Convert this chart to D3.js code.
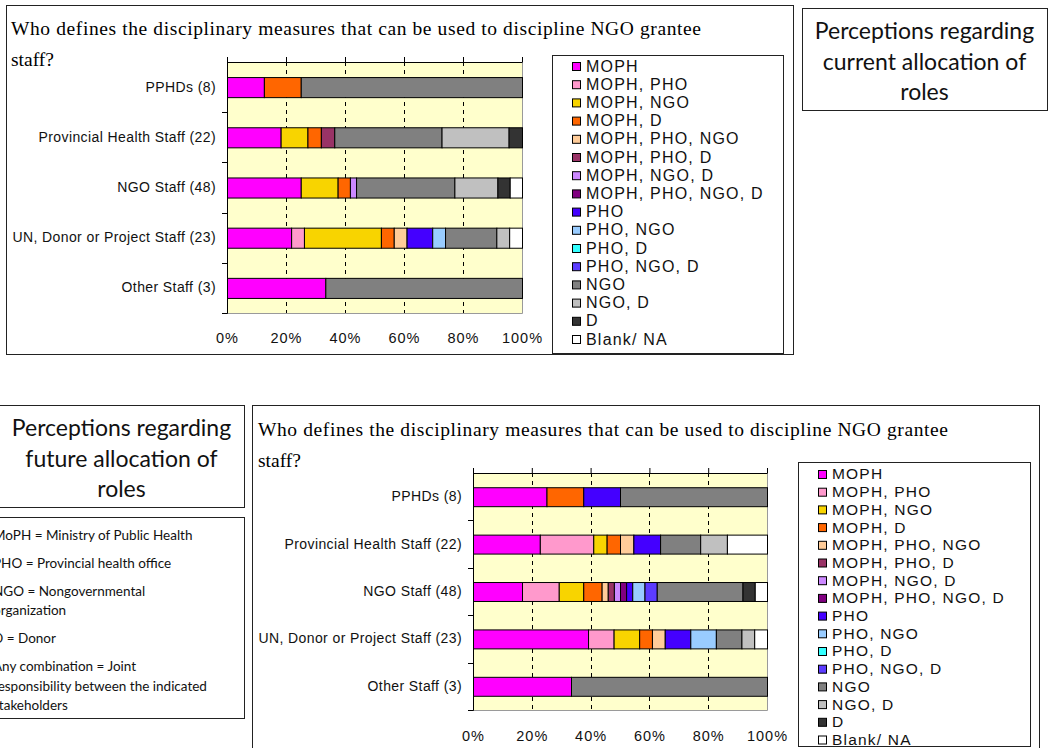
<!DOCTYPE html>
<html>
<head>
<meta charset="utf-8">
<script src="https://cdn.jsdelivr.net/npm/d3@7"></script>
<style>
  body { margin: 0; background: #fff; }
  svg { display: block; }
</style>
</head>
<body>
<svg id="page" width="1053" height="748"></svg>
<script>
'use strict';

// ---- data -------------------------------------------------------------
var categories = ['PPHDs (8)', 'Provincial Health Staff (22)', 'NGO Staff (48)',
                  'UN, Donor or Project Staff (23)', 'Other Staff (3)']

var seriesNames = ['MOPH', 'MOPH, PHO', 'MOPH, NGO', 'MOPH, D', 'MOPH, PHO, NGO',
                   'MOPH, PHO, D', 'MOPH, NGO, D', 'MOPH, PHO, NGO, D', 'PHO', 'PHO, NGO',
                   'PHO, D', 'PHO, NGO, D', 'NGO', 'NGO, D', 'D', 'Blank/ NA']

var seriesColors = ['#ff00ff', '#ff99cc', '#f8d400', '#ff6600', '#ffcc99',
                    '#993366', '#cc88ff', '#800080', '#4400ff', '#99ccff',
                    '#33ffff', '#5c3cff', '#808080', '#c0c0c0', '#333333', '#ffffff']

// respondent counts per category, in seriesNames order
var currentCounts = [
  [1, 0, 0, 1, 0, 0, 0, 0, 0, 0, 0, 0, 6, 0, 0, 0],
  [4, 0, 2, 1, 0, 1, 0, 0, 0, 0, 0, 0, 8, 5, 1, 0],
  [12, 0, 6, 2, 0, 0, 1, 0, 0, 0, 0, 0, 16, 7, 2, 2],
  [5, 1, 6, 1, 1, 0, 0, 0, 2, 1, 0, 0, 4, 1, 0, 1],
  [1, 0, 0, 0, 0, 0, 0, 0, 0, 0, 0, 0, 2, 0, 0, 0]
]

var futureCounts = [
  [2, 0, 0, 1, 0, 0, 0, 0, 1, 0, 0, 0, 4, 0, 0, 0],
  [5, 4, 1, 1, 1, 0, 0, 0, 2, 0, 0, 0, 3, 2, 0, 3],
  [8, 6, 4, 3, 1, 1, 1, 1, 1, 2, 0, 2, 14, 0, 2, 2],
  [9, 2, 2, 1, 1, 0, 0, 0, 2, 2, 0, 0, 2, 1, 0, 1],
  [1, 0, 0, 0, 0, 0, 0, 0, 0, 0, 0, 0, 2, 0, 0, 0]
]

var tickValues = [0, 0.2, 0.4, 0.6, 0.8, 1]

var chartTitle = ['Who defines the disciplinary measures that can be used to discipline NGO grantee', 'staff?']

var currentBoxText = ['Perceptions regarding', 'current allocation of', 'roles']
var futureBoxText = ['Perceptions regarding', 'future allocation of', 'roles']

var abbreviations = [
  ['MoPH = Ministry of Public Health'],
  ['PHO = Provincial health office'],
  ['NGO = Nongovernmental', 'organization'],
  ['D = Donor'],
  ['Any combination = Joint', 'responsibility between the indicated', 'stakeholders']
]

// ---- drawing ----------------------------------------------------------
var SANS = '"Liberation Sans", Arial, sans-serif'
,   SERIF = '"Liberation Serif", "Times New Roman", serif'
,   HUMANIST = 'Lato, "Open Sans", sans-serif'

var svg = d3.select('#page')

svg.append('rect').attr('width', 1053).attr('height', 748).attr('fill', '#fff')

function drawBox(x, y, w, h) {
  svg.append('rect')
    .attr('x', x + 0.5).attr('y', y + 0.5)
    .attr('width', w).attr('height', h)
    .attr('fill', '#fff')
    .attr('stroke', '#222')
    .attr('stroke-width', 1)
}

function drawBarChart(cfg, counts) {
  drawBox(cfg.box[0], cfg.box[1], cfg.box[2], cfg.box[3])

  // title
  svg.append('text')
    .attr('x', cfg.title[0]).attr('y', cfg.title[1])
    .attr('textLength', cfg.titleWidth)
    .attr('lengthAdjust', 'spacing')
    .style('font-family', SERIF).style('font-size', '19.5px')
    .text(chartTitle[0])
  svg.append('text')
    .attr('x', cfg.title[0]).attr('y', cfg.title[2])
    .style('font-family', SERIF).style('font-size', '19.5px')
    .text(chartTitle[1])

  var p = cfg.plot
  ,   g = svg.append('g').attr('transform', 'translate(' + p.x + ',' + p.y + ')')

  var x = d3.scaleLinear().domain([0, 1]).range([0, p.w])
  ,   y = d3.scaleBand().domain(categories).range([0, p.h]).paddingInner(0.6).paddingOuter(0.3)

  var rows = counts.map((c, i) => {
    var total = d3.sum(c)
    ,   row = { category: categories[i] }
    seriesNames.forEach((s, j) => { row[s] = c[j] / total })
    return row
  })

  var layers = d3.stack().keys(seriesNames)(rows)

  g.append('rect')
    .attr('width', p.w).attr('height', p.h)
    .attr('fill', '#ffffcc')

  // dashed gridlines
  g.selectAll('.grid')
    .data(tickValues.slice(1, -1))
    .enter().append('line')
    .attr('class', 'grid')
    .attr('x1', (d) => Math.round(x(d)) + 0.5).attr('x2', (d) => Math.round(x(d)) + 0.5)
    .attr('y1', 0).attr('y2', p.h)
    .attr('stroke', '#000')
    .attr('stroke-dasharray', '4,4')

  // right & bottom plot edge
  g.append('path')
    .attr('d', 'M' + (p.w + 0.5) + ',0V' + (p.h + 0.5) + 'H0')
    .attr('fill', 'none')
    .attr('stroke', '#9a9a9a')

  // bars
  g.selectAll('.layer')
    .data(layers)
    .enter().append('g')
    .attr('class', 'layer')
    .attr('fill', (d, i) => seriesColors[i])
    .selectAll('rect')
    .data((d) => d.filter((v) => v[1] - v[0] > 0))
    .enter().append('rect')
    .attr('x', (d) => x(d[0]) + 0.5)
    .attr('y', (d) => y(d.data.category) + 0.5)
    .attr('width', (d) => x(d[1]) - x(d[0]))
    .attr('height', y.bandwidth())
    .attr('stroke', '#000')
    .attr('stroke-width', 1)

  // top value axis (ticks only)
  g.append('g')
    .call(d3.axisTop(x).tickValues(tickValues).tickSize(5).tickFormat(''))
    .call((a) => a.selectAll('path, line').attr('stroke', '#000'))
    .call((a) => a.select('.domain').attr('d', 'M0.5,0.5H' + (p.w + 0.5)))

  // percent labels below the plot
  g.append('g')
    .attr('transform', 'translate(0,' + cfg.labelOffset + ')')
    .call(d3.axisBottom(x).tickValues(tickValues).tickSize(0).tickPadding(0).tickFormat(d3.format('.0%')))
    .call((a) => a.select('.domain').remove())
    .call((a) => a.selectAll('text')
      .attr('dy', '0.35em')
      .style('font-family', SANS).style('font-size', '14.5px')
      .style('letter-spacing', '1px').attr('fill', '#111'))

  // category axis
  g.append('g')
    .call(d3.axisLeft(y).tickSize(0).tickPadding(cfg.catPad))
    .call((a) => a.select('.domain').attr('d', 'M0.5,-5V' + (p.h + 0.5)).attr('stroke', '#000'))
    .call((a) => a.selectAll('text')
      .style('font-family', SANS).style('font-size', '14px')
      .style('letter-spacing', '0.4px').attr('fill', '#111'))

  g.selectAll('.catTick')
    .data(categories)
    .enter().append('line')
    .attr('class', 'catTick')
    .attr('x1', -5).attr('x2', 0.5)
    .attr('y1', (d, i) => Math.round((i + 1) * y.step()) + 0.5)
    .attr('y2', (d, i) => Math.round((i + 1) * y.step()) + 0.5)
    .attr('stroke', '#000')

  // legend
  var L = cfg.legend
  drawBox(L.x, L.y, L.w, L.h)

  var items = svg.append('g')
    .selectAll('.legendItem')
    .data(seriesNames)
    .enter().append('g')
    .attr('class', 'legendItem')
    .attr('transform', (d, i) => 'translate(' + L.swatchX + ',' + (L.firstY + i * L.step) + ')')

  items.append('rect')
    .attr('x', 0.5).attr('y', -3.5)
    .attr('width', 8).attr('height', 8)
    .attr('fill', (d, i) => seriesColors[i])
    .attr('stroke', '#000')

  items.append('text')
    .attr('x', 14).attr('y', 0)
    .attr('dy', '0.35em')
    .style('font-family', SANS).style('font-size', L.fontSize)
    .style('letter-spacing', '1.2px')
    .attr('fill', '#111')
    .text((d) => d)
}

function drawTextBox(x, y, w, h, lines, firstY, lineStep) {
  drawBox(x, y, w, h)
  svg.append('g')
    .selectAll('text')
    .data(lines)
    .enter().append('text')
    .attr('x', x + w / 2)
    .attr('y', (d, i) => firstY + i * lineStep)
    .attr('text-anchor', 'middle')
    .attr('dy', '0.35em')
    .style('font-family', HUMANIST).style('font-size', '23px')
    .attr('fill', '#111')
    .text((d) => d)
}

// current allocation chart
drawBarChart({
  box: [6, 5, 787, 349],
  title: [11, 35, 66],
  titleWidth: 690,
  plot: { x: 227, y: 62, w: 295, h: 251 },
  labelOffset: 276,
  catPad: 11,
  legend: { x: 552, y: 55, w: 231, h: 298, swatchX: 572, firstY: 66, step: 18.2, fontSize: '16px' }
}, currentCounts)

drawTextBox(802, 8, 245, 102, currentBoxText, 31, 30.5)

// future allocation chart
drawBarChart({
  box: [252, 405, 787, 350],
  title: [258, 436, 467],
  titleWidth: 690,
  plot: { x: 473, y: 473, w: 294, h: 237 },
  labelOffset: 263,
  catPad: 11,
  legend: { x: 798, y: 462, w: 232, h: 284, swatchX: 818, firstY: 474, step: 17.7, fontSize: '15.5px' }
}, futureCounts)

drawTextBox(-1, 405, 245, 102, futureBoxText, 428, 30.5)

// abbreviation key
drawBox(-1, 517, 245, 201)

var keyLines = []
,   keyY = 535
abbreviations.forEach((group) => {
  group.forEach((line) => {
    keyLines.push({ text: line, y: keyY })
    keyY += 19.5
  })
  keyY += 8.5
})

svg.append('g')
  .selectAll('text')
  .data(keyLines)
  .enter().append('text')
  .attr('x', -7)
  .attr('y', (d) => d.y)
  .attr('dy', '0.35em')
  .style('font-family', HUMANIST).style('font-size', '13.5px')
  .attr('fill', '#111')
  .text((d) => d.text)
</script>
</body>
</html>
